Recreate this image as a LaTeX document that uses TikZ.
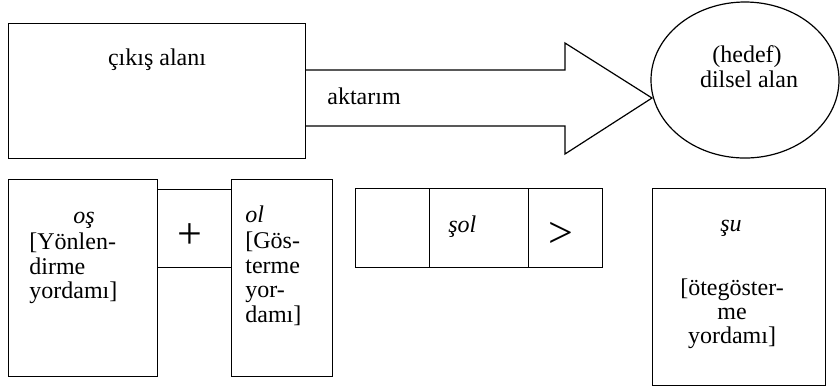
\documentclass[tikz,border=0pt]{standalone}
\usepackage{fontspec}
\setmainfont{Liberation Serif}
\usetikzlibrary{shapes.geometric}
\begin{document}
\begin{tikzpicture}[x=0.5pt,y=-0.5pt,
  box/.style={draw,line width=0.6pt,inner sep=0pt,anchor=north west},
  txt/.style={inner sep=0pt,font=\fontsize{12}{12}\selectfont},
  sym/.style={inner sep=0pt,font=\fontsize{22}{22}\selectfont}]
\useasboundingbox (0,0) rectangle (840,388);

% source field and target ellipse
\node[box,minimum width=148.5pt,minimum height=67.5pt] (src) at (8,23) {};
\node[draw,line width=0.6pt,ellipse,inner sep=0pt,minimum width=94pt,minimum height=78pt] (tgt) at (745,80) {};
\node[txt,anchor=base] (srct) at (157,65) {çıkış alanı};
\node[txt,anchor=base] (tgt1) at (747,62) {(hedef)};
\node[txt,anchor=base] (tgt2) at (749,87) {dilsel alan};

% transfer arrow (outline)
\coordinate (s1) at (src.east |- 0,70);
\coordinate (s2) at (src.east |- 0,126);
\coordinate (h1) at (565,70);
\coordinate (h2) at (565,43);
\coordinate (tip) at (652,98);
\coordinate (h3) at (565,154);
\coordinate (h4) at (565,126);
\draw[line width=0.6pt,line join=miter] (s1) -- (h1) -- (h2) -- (tip) -- (h3) -- (h4) -- (s2);
\node[txt,anchor=base west] (akt) at (327,104) {aktarım};

% lower row: oş + ol
\node[box,minimum width=74.5pt,minimum height=98.5pt] (b1) at (8,179) {};
\node[box,minimum width=37pt,minimum height=39pt] (pl) at (157,189) {};
\node[box,minimum width=50.5pt,minimum height=98.5pt] (b2) at (231,179) {};
\node[txt,anchor=base] (b1h) at (84,223) {\itshape oş};
\node[txt,anchor=base west] (b1a) at (29,249) {[Yönlen-};
\node[txt,anchor=base west] (b1b) at (29,274) {dirme};
\node[txt,anchor=base west] (b1c) at (29,298) {yordamı]};
\node[sym] (plus) at (190,236) {+};
\node[txt,anchor=base west] (b2h) at (245,222) {\itshape ol};
\node[txt,anchor=base west] (b2a) at (245,248) {[Gös-};
\node[txt,anchor=base west] (b2b) at (245,273) {terme};
\node[txt,anchor=base west] (b2c) at (245,297) {yor-};
\node[txt,anchor=base west] (b2d) at (245,322) {damı]};

% lower row: şol >
\node[box,minimum width=37pt,minimum height=39.5pt] (r1) at (355,188) {};
\node[box,minimum width=49.5pt,minimum height=39.5pt] (r2) at (429,188) {};
\node[box,minimum width=37pt,minimum height=39.5pt] (r3) at (528,188) {};
\node[txt,anchor=base west] (solt) at (448,232) {\itshape şol};
\node[sym] (gt) at (561,235) {>};

% lower row: şu
\node[box,minimum width=86.5pt,minimum height=98.5pt] (su) at (652,188) {};
\node[txt,anchor=base] (suh) at (731,231) {\itshape şu};
\node[txt,anchor=base] (sua) at (732,295) {[ötegöster-};
\node[txt,anchor=base] (sub) at (732,319) {me};
\node[txt,anchor=base] (suc) at (732,343) {yordamı]};
\end{tikzpicture}
\end{document}
